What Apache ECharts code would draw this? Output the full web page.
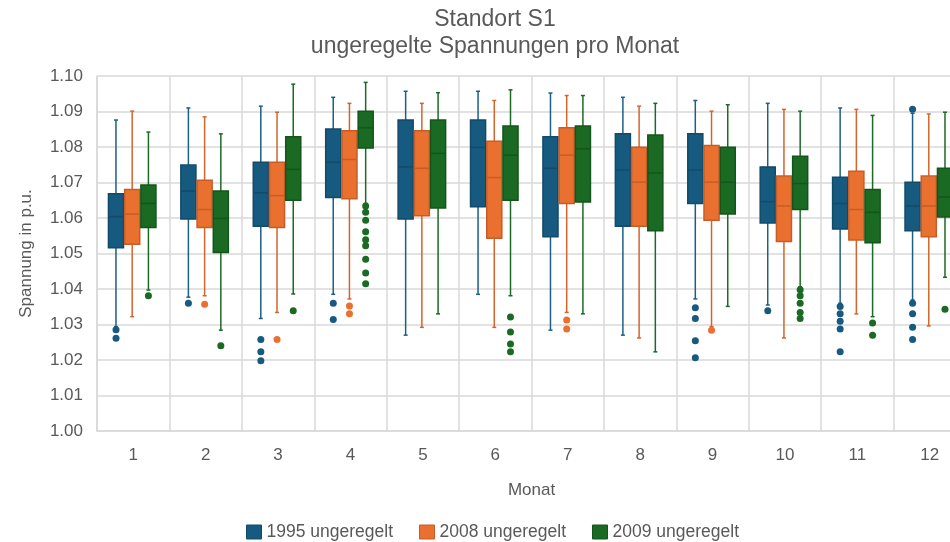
<!DOCTYPE html>
<html>
<head>
<meta charset="utf-8">
<title>Standort S1</title>
<script src="https://cdn.jsdelivr.net/npm/echarts@6/dist/echarts.min.js"></script>
<style>
  html, body { margin: 0; padding: 0; background: #fff; }
  #chart { width: 950px; height: 542px; }
</style>
</head>
<body>
<div id="chart"></div>
<script>
const months = ['1', '2', '3', '4', '5', '6', '7', '8', '9', '10', '11', '12'];
const seriesNames = ['1995 ungeregelt', '2008 ungeregelt', '2009 ungeregelt'];

// per month: [min, q1, median, q3, max]
const box1995 = [
  [1.0294, 1.0516, 1.0604, 1.0668, 1.0876],
  [1.0377, 1.0597, 1.0676, 1.0749, 1.0910],
  [1.0317, 1.0577, 1.0671, 1.0757, 1.0915],
  [1.0385, 1.0658, 1.0757, 1.0851, 1.0940],
  [1.0270, 1.0597, 1.0744, 1.0876, 1.0957],
  [1.0385, 1.0632, 1.0799, 1.0876, 1.0957],
  [1.0284, 1.0547, 1.0740, 1.0829, 1.0952],
  [1.0270, 1.0577, 1.0735, 1.0837, 1.0940],
  [1.0372, 1.0641, 1.0735, 1.0837, 1.0931],
  [1.0355, 1.0586, 1.0646, 1.0744, 1.0923],
  [1.0360, 1.0569, 1.0641, 1.0715, 1.0910],
  [1.0369, 1.0564, 1.0634, 1.0701, 1.0895]
];
const box2008 = [
  [1.0322, 1.0526, 1.0611, 1.0680, 1.0901],
  [1.0381, 1.0573, 1.0624, 1.0706, 1.0885],
  [1.0334, 1.0573, 1.0663, 1.0757, 1.0898],
  [1.0372, 1.0654, 1.0765, 1.0846, 1.0923],
  [1.0292, 1.0606, 1.0740, 1.0846, 1.0923],
  [1.0292, 1.0543, 1.0714, 1.0816, 1.0931],
  [1.0334, 1.0641, 1.0777, 1.0854, 1.0945],
  [1.0262, 1.0577, 1.0701, 1.0799, 1.0915],
  [1.0294, 1.0594, 1.0701, 1.0804, 1.0901],
  [1.0262, 1.0534, 1.0634, 1.0718, 1.0906],
  [1.0330, 1.0538, 1.0624, 1.0732, 1.0906],
  [1.0296, 1.0547, 1.0634, 1.0718, 1.0893]
];
const box2009 = [
  [1.0397, 1.0573, 1.0641, 1.0693, 1.0842],
  [1.0284, 1.0503, 1.0599, 1.0676, 1.0837],
  [1.0386, 1.0650, 1.0737, 1.0829, 1.0977],
  [1.0641, 1.0797, 1.0854, 1.0901, 1.0982],
  [1.0330, 1.0628, 1.0782, 1.0876, 1.0953],
  [1.0381, 1.0650, 1.0777, 1.0859, 1.0961],
  [1.0330, 1.0645, 1.0795, 1.0859, 1.0945],
  [1.0223, 1.0564, 1.0727, 1.0834, 1.0923],
  [1.0351, 1.0611, 1.0701, 1.0799, 1.0919],
  [1.0406, 1.0624, 1.0697, 1.0774, 1.0901],
  [1.0322, 1.0530, 1.0616, 1.0680, 1.0889],
  [1.0433, 1.0603, 1.0659, 1.0740, 1.0898]
];

// outliers: [month index, value]
const out1995 = [
  [0, 1.0285], [0, 1.0261], [1, 1.0360], [2, 1.0258], [2, 1.0223], [2, 1.0198],
  [3, 1.0360], [3, 1.0314], [8, 1.0347], [8, 1.0317], [8, 1.0254], [8, 1.0206],
  [9, 1.0339], [10, 1.0351], [10, 1.0330], [10, 1.0309], [10, 1.0287], [10, 1.0223],
  [11, 1.0906], [11, 1.0360], [11, 1.0330], [11, 1.0292], [11, 1.0258]
];
const out2008 = [
  [1, 1.0357], [2, 1.0258], [3, 1.0352], [3, 1.0330], [6, 1.0313], [6, 1.0287], [8, 1.0284]
];
const out2009 = [
  [0, 1.0381], [1, 1.0240], [2, 1.0339],
  [3, 1.0634], [3, 1.0616], [3, 1.0594], [3, 1.0561], [3, 1.0539], [3, 1.0522], [3, 1.0484], [3, 1.0445], [3, 1.0415],
  [5, 1.0321], [5, 1.0279], [5, 1.0245], [5, 1.0223],
  [9, 1.0398], [9, 1.0381], [9, 1.0360], [9, 1.0334], [9, 1.0317],
  [10, 1.0304], [10, 1.0270], [11, 1.0343]
];

const fills = ['#175a80', '#ea7030', '#1a6a24'];
const strokes = ['#124a6a', '#c65d27', '#13561b'];
const whiskers = ['#1c5f85', '#d3652c', '#1b6a25'];
const textColor = '#595959';
const gridColor = '#d9d9d9';

const chart = echarts.init(document.getElementById('chart'));

// box drawn in its slot inside the month band
function boxItem(slot) {
  return function (params, api) {
    const cat = api.value(0);
    const band = api.size([1, 0])[0];
    const cx = api.coord([cat, api.value(3)])[0] + band * ((slot - 1) * 0.224 - 0.014);
    const half = band * 0.104;
    const yMin = api.coord([cat, api.value(1)])[1];
    const yQ1 = api.coord([cat, api.value(2)])[1];
    const yMed = api.coord([cat, api.value(3)])[1];
    const yQ3 = api.coord([cat, api.value(4)])[1];
    const yMax = api.coord([cat, api.value(5)])[1];
    const wStyle = { stroke: whiskers[slot], lineWidth: 1.5 };
    return {
      type: 'group',
      children: [
        { type: 'line', shape: { x1: cx, y1: yMax, x2: cx, y2: yQ3 }, style: wStyle },
        { type: 'line', shape: { x1: cx, y1: yQ1, x2: cx, y2: yMin }, style: wStyle },
        { type: 'line', shape: { x1: cx - 2, y1: yMax, x2: cx + 2, y2: yMax }, style: wStyle },
        { type: 'line', shape: { x1: cx - 2, y1: yMin, x2: cx + 2, y2: yMin }, style: wStyle },
        {
          type: 'rect',
          shape: { x: cx - half, y: yQ3, width: half * 2, height: yQ1 - yQ3 },
          style: { fill: fills[slot], stroke: strokes[slot], lineWidth: 1.5 }
        },
        { type: 'line', shape: { x1: cx - half, y1: yMed, x2: cx + half, y2: yMed }, style: { stroke: strokes[slot], lineWidth: 1.5 } }
      ]
    };
  };
}

const boxes = [box1995, box2008, box2009];
const outliers = [out1995, out2008, out2009];
const slotOffsetPx = [-17.2, -1.0, 15.2];

const series = [];
boxes.forEach(function (b, k) {
  series.push({
    name: seriesNames[k],
    type: 'custom',
    renderItem: boxItem(k),
    itemStyle: { color: fills[k], borderColor: strokes[k] },
    encode: { x: 0, y: [1, 2, 3, 4, 5] },
    data: b.map(function (d, i) { return [i].concat(d); }),
    z: 2
  });
});
outliers.forEach(function (o, k) {
  series.push({
    name: seriesNames[k],
    type: 'scatter',
    symbol: 'circle',
    symbolSize: 7,
    symbolOffset: [slotOffsetPx[k], 0],
    itemStyle: { color: fills[k], opacity: 1 },
    data: o,
    z: 3
  });
});

const option = {
  backgroundColor: '#ffffff',
  animation: false,
  textStyle: { fontFamily: 'Liberation Sans, Arial, sans-serif' },
  title: {
    text: 'Standort S1\nungeregelte Spannungen pro Monat',
    left: 490,
    top: 1,
    textAlign: 'center',
    textStyle: { fontSize: 23, fontWeight: 'normal', color: textColor, lineHeight: 27 }
  },
  legend: {
    data: seriesNames.map(function (n, k) {
      return { name: n, icon: 'rect', itemStyle: { color: fills[k], borderColor: strokes[k], borderWidth: 1 } };
    }),
    left: 246,
    top: 523,
    padding: 0,
    itemWidth: 15,
    itemHeight: 14,
    itemGap: 26,
    textStyle: { fontSize: 17.5, color: textColor }
  },
  grid: { left: 97, right: -16, top: 76, bottom: 111, outerBoundsMode: 'none', containLabel: false },
  xAxis: {
    type: 'category',
    data: months,
    boundaryGap: true,
    name: 'Monat',
    nameLocation: 'middle',
    nameGap: 51,
    nameTextStyle: { fontSize: 17, color: textColor },
    axisLine: { show: true, lineStyle: { color: gridColor, width: 1.5 } },
    axisTick: { show: false },
    axisLabel: { fontSize: 17, color: textColor, margin: 16 },
    splitLine: { show: true, lineStyle: { color: gridColor, width: 1.5 } }
  },
  yAxis: {
    type: 'value',
    min: 1.0,
    max: 1.1,
    interval: 0.01,
    name: 'Spannung in p.u.',
    nameLocation: 'middle',
    nameGap: 62,
    nameTextStyle: { fontSize: 17, color: textColor },
    axisLine: { show: true, lineStyle: { color: gridColor, width: 1.5 } },
    axisTick: { show: false },
    axisLabel: {
      fontSize: 17,
      color: textColor,
      margin: 14,
      formatter: function (v) { return v.toFixed(2); }
    },
    splitLine: { show: true, lineStyle: { color: gridColor, width: 1.5 } }
  },
  series: series
};

option && chart.setOption(option);
</script>
</body>
</html>
